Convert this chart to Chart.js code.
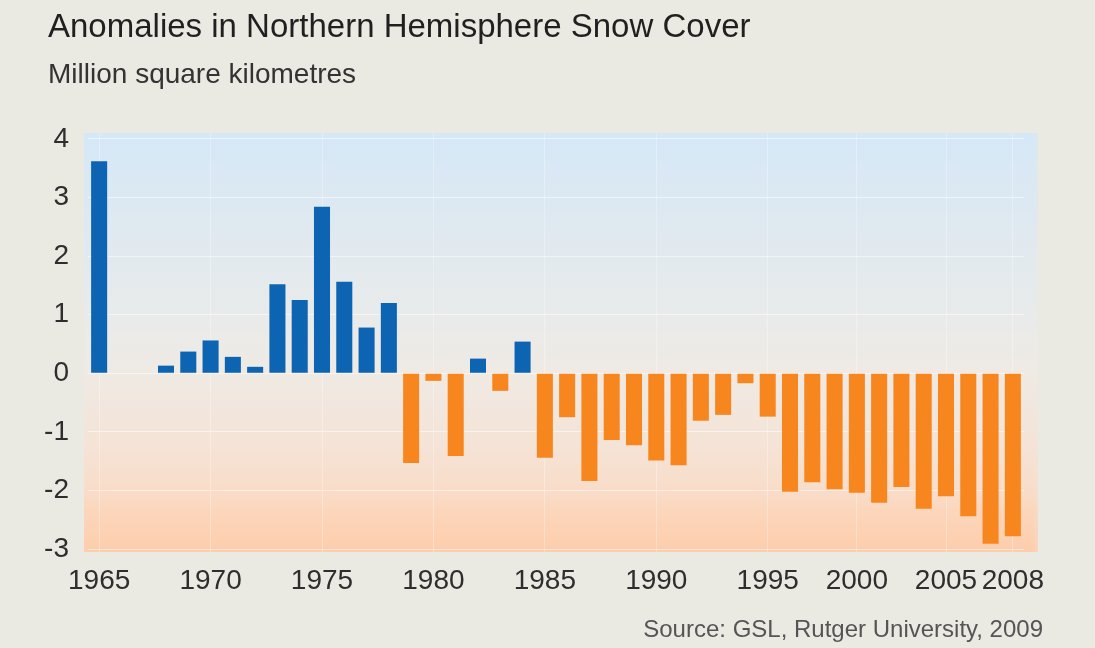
<!DOCTYPE html>
<html>
<head>
<meta charset="utf-8">
<title>Anomalies in Northern Hemisphere Snow Cover</title>
<script src="https://cdn.jsdelivr.net/npm/chart.js@4.4.0/dist/chart.umd.min.js"></script>
<style>
  html, body { margin: 0; padding: 0; background: #EAE9E2; }
  #wrap { width: 1095px; height: 648px; }
</style>
</head>
<body>
<div id="wrap"><canvas id="chart" width="1095" height="648"></canvas></div>
<script>
// Annual snow-cover anomaly, million km² (one entry per bar; null = no bar)
const years = [
  '1965','1966','1967','1968','1969','1970','1971','1972','1973','1974',
  '1975','1976','1977','1978','1979','1980','1981','1982','1983','1984',
  '1985','1986','1987','1988','1989','1990','1991','1992','1993','1994',
  '1995','1996','1997','1998','2000','2001','2002','2003','2005','2006',
  '2007','2008'
];
const anomalies = [
  3.62, null, null, 0.13, 0.37, 0.56, 0.28, 0.11, 1.52, 1.25,
  2.84, 1.56, 0.78, 1.20, -1.53, -0.13, -1.41, 0.25, -0.30, 0.54,
  -1.44, -0.75, -1.84, -1.14, -1.23, -1.49, -1.57, -0.81, -0.71, -0.17,
  -0.74, -2.02, -1.86, -1.98, -2.04, -2.21, -1.94, -2.31, -2.10, -2.44,
  -2.91, -2.78
];
const xTickLabels = ['1965','1970','1975','1980','1985','1990','1995','2000','2005','2008'];
const yTickValues = [-3, -2, -1, 0, 1, 2, 3, 4];

const titleText = 'Anomalies in Northern Hemisphere Snow Cover';
const subtitleText = 'Million square kilometres';
const sourceText = 'Source: GSL, Rutger University, 2009';

const FONT = "'Liberation Sans', Arial, Helvetica, sans-serif";
const BLUE = '#0C64B2';
const ORANGE = '#F8861F';
const PAGE_BG = '#EAE9E2';

// Soft blue-to-peach panel behind the bars, plus page background
const panelBackground = {
  id: 'panelBackground',
  beforeDraw(chart) {
    const { ctx, chartArea: a, width, height } = chart;
    ctx.save();
    ctx.fillStyle = PAGE_BG;
    ctx.fillRect(0, 0, width, height);

    const left = a.left - 4, right = a.right + 14;
    const g = ctx.createLinearGradient(0, a.top, 0, a.bottom);
    g.addColorStop(0.00, '#D5E8F7');
    g.addColorStop(0.22, '#DFE9F0');
    g.addColorStop(0.45, '#E9EBEA');
    g.addColorStop(0.57, '#EFEAE4');
    g.addColorStop(0.75, '#F5E3D6');
    g.addColorStop(0.86, '#F9DCC8');
    g.addColorStop(0.90, '#FCD6BC');
    g.addColorStop(1.00, '#FDCDAC');
    ctx.fillStyle = g;
    ctx.fillRect(left, a.top, right - left, a.bottom - a.top);

    // feather the right edge into the page
    const f = ctx.createLinearGradient(right - 6, 0, right + 16, 0);
    f.addColorStop(0, 'rgba(234,233,226,0)');
    f.addColorStop(1, 'rgba(234,233,226,1)');
    ctx.fillStyle = f;
    ctx.fillRect(right - 6, a.top, 22, a.bottom - a.top);
    ctx.restore();
  }
};

// Heading, unit line and source note
const textBlocks = {
  id: 'textBlocks',
  afterDraw(chart) {
    const { ctx } = chart;
    ctx.save();
    ctx.textBaseline = 'alphabetic';
    ctx.textAlign = 'left';
    ctx.fillStyle = '#231F20';
    ctx.font = '33px ' + FONT;
    ctx.fillText(titleText, 48, 37);
    ctx.fillStyle = '#333333';
    ctx.font = '28px ' + FONT;
    ctx.fillText(subtitleText, 48, 83);
    ctx.textAlign = 'right';
    ctx.fillStyle = '#555555';
    ctx.font = '24px ' + FONT;
    ctx.fillText(sourceText, 1043, 637);
    ctx.restore();
  }
};

new Chart(document.getElementById('chart'), {
  type: 'bar',
  data: {
    labels: years,
    datasets: [{
      data: anomalies,
      backgroundColor: (c) => (c.raw !== null && c.raw < 0 ? ORANGE : BLUE),
      borderWidth: 0,
      barPercentage: 0.72,
      categoryPercentage: 1.0
    }]
  },
  options: {
    responsive: false,
    animation: false,
    layout: { padding: { left: 0, right: 71, top: 133, bottom: 0 } },
    plugins: {
      legend: { display: false },
      tooltip: { enabled: false },
      title: { display: false }
    },
    scales: {
      x: {
        type: 'category',
        offset: true,
        afterFit(s) { s.height = 96; },
        border: { display: false },
        grid: {
          offset: false,
          drawTicks: false,
          lineWidth: 1,
          color: (c) => (xTickLabels.includes(years[c.index]) ? 'rgba(255,255,255,0.3)' : 'rgba(0,0,0,0)')
        },
        ticks: {
          autoSkip: false,
          maxRotation: 0,
          minRotation: 0,
          padding: 12,
          color: '#2E2E2E',
          font: { family: FONT, size: 28 },
          callback: (v, i) => (xTickLabels.includes(years[i]) ? years[i] : '')
        }
      },
      y: {
        min: -3.05,
        max: 4.1,
        afterFit(s) { s.width = 88; },
        afterBuildTicks(s) { s.ticks = yTickValues.map(v => ({ value: v })); },
        border: { display: false },
        grid: {
          drawTicks: false,
          lineWidth: 1,
          color: 'rgba(255,255,255,0.5)'
        },
        ticks: {
          padding: 19,
          color: '#2E2E2E',
          font: { family: FONT, size: 28 },
          callback: (v) => String(v)
        }
      }
    }
  },
  plugins: [panelBackground, textBlocks]
});
</script>
</body>
</html>
